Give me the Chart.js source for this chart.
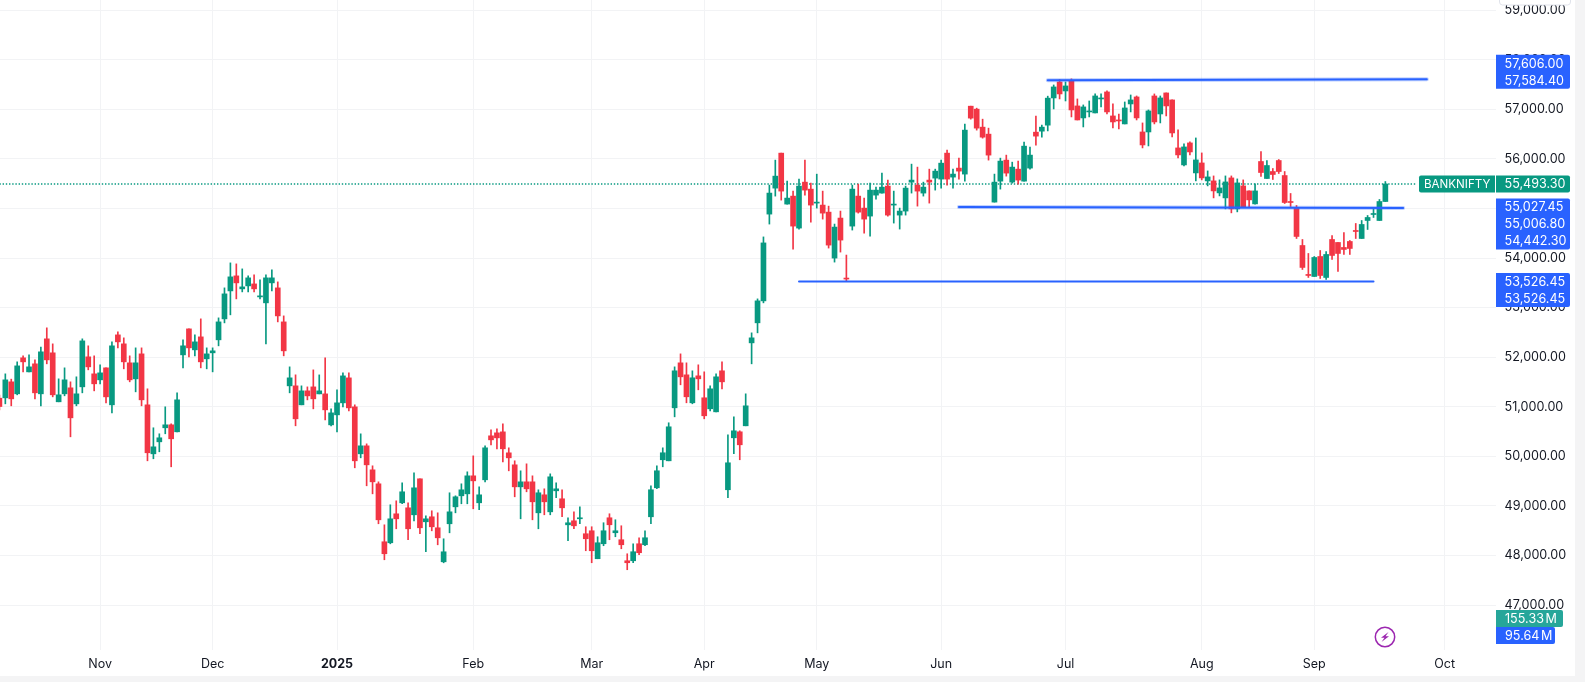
<!DOCTYPE html>
<html>
<head>
<meta charset="utf-8">
<title>BANKNIFTY</title>
<script src="https://cdn.jsdelivr.net/npm/chart.js@4/dist/chart.umd.min.js"></script>
<style>
    html, body { margin: 0; padding: 0; background: #f4f4f5; overflow: hidden; }
    #wrap { width: 1575px; height: 676px; background: #ffffff; }
</style>
</head>
<body>
<div id="wrap"><canvas id="myChart" width="1575" height="676"></canvas></div>
<script>
const opens = [
    51173,51180,51503,51261,51987,51704,51866,51261,52370,52088,
    51100,51261,51382,51059,51402,52007,51664,51543,51785,51039,
    52450,52269,51886,51563,52067,51039,50051,50293,50576,50636,
    50495,52047,52571,52148,52410,51967,52088,52350,52773,53337,
    53640,53378,53438,53478,53216,53096,53499,53398,52712,51422,
    51422,51039,51321,51401,51260,51260,50635,50837,51079,51583,
    50998,50051,50212,49728,49446,48277,48257,48841,49063,48962,
    48821,49547,48680,48781,48559,47873,48640,48982,49204,49244,
    49607,49063,49527,50414,50474,50494,50071,49829,49385,49486,
    49486,48861,49224,48881,49305,49144,48619,48700,48741,48439,
    48499,47935,48237,48761,48459,48318,47894,47894,48237,48217,
    48781,49366,49931,49910,50979,51886,51644,51080,51624,51181,
    50959,50898,51725,49326,50374,50495,50616,52289,52693,53136,
    54886,55410,56116,55088,55249,54604,55531,55390,55108,55068,
    54926,53999,54806,53596,54644,55249,55007,54846,55269,55310,
    55451,55068,54866,54947,55531,55471,55310,55572,55612,55592,
    56116,55632,55814,55693,57063,57003,56640,56499,55128,55551,
    55975,55531,55793,55551,55814,56539,56559,56680,57229,57551,
    57370,57572,57068,56826,56947,56927,57209,57350,56866,56785,
    56705,57108,57249,56543,56543,57269,56906,57330,57189,56221,
    55878,56322,55717,55918,55556,55556,55314,55213,55616,54991,
    55455,55354,55092,55947,55604,55745,55967,55664,55140,55019,
    54253,53669,53628,54031,53608,54374,54314,54213,54334,54556,
    54394,54757,54878,54757,55140
];
const highs = [
    51234,51664,51557,51906,52027,52047,51946,52202,52592,52269,
    51563,51785,51503,51604,52370,52229,52027,51846,51785,52309,
    52511,52390,52027,52188,52188,51362,50576,50455,50999,50656,
    51281,52350,52571,52450,52773,52188,52188,52793,53398,53902,
    53882,53781,53640,53660,53559,53660,53761,53519,52833,51805,
    51644,51422,51401,51744,51643,51986,50958,51341,51684,51684,
    51039,50454,50252,49809,49486,48619,49023,49103,49466,49063,
    49668,49547,48801,48902,48861,48337,49265,49204,49446,49688,
    50010,49385,50212,50535,50555,50656,50172,49910,49708,49849,
    49607,49325,49345,49647,49466,49325,48760,48881,48983,48580,
    48580,48378,48661,48842,48721,48600,48035,48237,48358,48499,
    49406,49810,50172,50677,51805,52067,51886,51725,51846,51705,
    51422,51664,51906,50435,50797,50515,51261,52491,53176,54426,
    55471,55975,56116,55551,55350,55592,55975,55511,55692,55350,
    55047,54685,54947,54060,55471,55491,55209,55511,55430,55713,
    55572,55350,55007,55451,55894,55834,55531,55793,55793,55975,
    56176,55793,56015,56701,57063,57023,56801,56620,55693,56015,
    56076,55934,55955,56338,56237,56862,56680,57265,57491,57600,
    57551,57614,57209,57088,57168,57310,57310,57370,57108,56906,
    57148,57289,57269,56725,56987,57310,57269,57330,57189,56584,
    56302,56342,56422,56120,55757,55656,55576,55656,55656,55596,
    55576,55354,55495,56148,55967,55806,55987,55745,55302,55060,
    54374,54092,54031,54152,54132,54455,54314,54515,54354,54697,
    54757,54858,55019,55181,55543
];
const lows = [
    50938,51059,51019,51241,51704,51704,51160,51019,51866,51200,
    51100,51221,50394,51019,51281,51745,51321,51463,51080,50878,
    52188,51765,51503,51301,51019,49910,49951,50092,50455,49789,
    50495,51785,52007,52027,51785,51765,51704,52229,52692,52854,
    53176,53317,53317,53317,53176,52269,53337,52712,52027,51281,
    50616,51039,51139,50958,51260,50736,50615,50494,50998,50918,
    49769,49970,49406,49244,48640,47914,48236,48539,49043,48317,
    48700,48438,48075,48498,48216,47853,48458,48861,49043,49043,
    48942,48922,49486,50232,50152,49889,49708,49184,48740,49285,
    48720,48539,48821,48821,49164,48781,48297,48539,48640,48096,
    47854,47935,48197,48318,48378,48136,47713,47854,48015,48197,
    48640,49346,49789,49910,50797,51443,51080,51060,51342,50757,
    50918,50898,51362,49165,50052,49931,50616,51866,52491,53096,
    54685,55249,55168,55088,54181,54584,55269,54725,55007,54785,
    54201,53918,54120,53526.45,54564,54906,54503,54443,55189,55310,
    54846,54705,54584,54866,55310,55047,55249,55108,55370,55410,
    55471,55410,55592,55551,56801,56580,56418,55975,55128,55390,
    55652,55511,55491,55551,55793,56277,56438,56564,57007,57209,
    57168,56846,56785,56644,56846,56927,57048,56906,56624,56604,
    56705,56947,56785,56221,56261,56705,56725,56866,56443,56019,
    55858,56080,55556,55576,55455,55213,55253,54991,54911,54931,
    55032,55032,55085,55644,55604,55584,55705,55100,55039,54394,
    53769,53608,53628,53588,53568,53971,53729,54072,54072,54394,
    54394,54576,54818,54757,55140
];
const closes = [
    51005,51543,51160,51825,51906,51805,51281,52108,51946,51241,
    51241,51543,50777,51261,52329,51805,51463,51684,51200,52229,
    52309,51906,51543,51886,51140,50072,50192,50374,50636,50354,
    51140,52229,52188,52309,51906,52067,52128,52712,53277,53620,
    53499,53418,53600,53378,53237,53600,53600,52833,52128,51583,
    50757,51321,51220,51160,51321,50938,50877,51079,51623,50978,
    49910,50212,49829,49486,48720,48035,48740,48740,49285,48539,
    49365,48559,48740,48579,48357,48075,48881,49184,49325,49607,
    49506,49224,50172,50333,50373,50152,49970,49385,49486,49345,
    49083,49265,49083,49587,49345,48962,48660,48599,48761,48338,
    48096,48257,48499,48620,48499,48217,47854,48076,48056,48358,
    49326,49709,50072,50596,51725,51604,51201,51584,51564,50818,
    51362,51604,51503,49870,50515,50233,51019,52390,53136,54305,
    55310,55652,55350,55209,54644,55451,55370,55068,55128,54906,
    54261,54624,54362,53576,55390,54926,54785,55370,55370,55430,
    54866,55088,54947,55410,55572,55350,55430,55531,55753,55914,
    55592,55693,55753,56580,56822,56620,56438,56076,55531,55955,
    55713,55834,55572,56257,56076,56459,56640,57225,57451,57310,
    57471,56987,56785,57048,56967,57269,57229,56947,56745,56765,
    57027,57189,56826,56281,56967,56745,57229,57068,56523,56080,
    56241,56140,55979,55616,55636,55354,55414,55535,54991,55515,
    55032,55173,55354,55725,55866,55685,55745,55120,55120,54435,
    53810,53648,54011,53648,54072,54052,54092,54173,54193,54535,
    54677,54818,54898,55140,55493.30
];

const monthTicks = [17, 36, 57, 80, 100, 119, 138, 159, 180, 203, 222, 244];
const monthLabels = ['Nov', 'Dec', '2025', 'Feb', 'Mar', 'Apr', 'May', 'Jun', 'Jul', 'Aug', 'Sep', 'Oct'];
const priceTicks = [47000, 48000, 49000, 50000, 51000, 52000, 53000, 54000, 55000, 56000, 57000, 58000, 59000];

const trendStarts = [177, 162, 135];
const trendEnds = [241, 237, 232];
const trendStartValues = [57584.40, 55027.45, 53526.45];
const trendEndValues = [57606.00, 55006.80, 53526.45];
const trendHalo = [true, true, false];

const symbolName = 'BANKNIFTY';
const lastPrice = 55493.30;
const lastPriceEnd = 239.3;

const tagTexts = [['57,606.00', '57,584.40'], ['55,027.45', '55,006.80', '54,442.30'], ['53,526.45', '53,526.45']];
const tagAnchors = [57584.40, 55027.45, 53526.45];
const tagAnchorRow = [1, 0, 0];
const volumeTexts = ['155.33 M', '95.64 M'];

const green = '#089981';
const red = '#f23645';
const blue = '#2962ff';
const gridColor = '#f2f3f5';
const textColor = '#131722';
const fontName = 'Inter, "Noto Sans", sans-serif';
const axisFontSize = 12.6;

const barColors = closes.map((c, i) => (c >= opens[i] ? green : red));

const priceLabel = (v) => v.toLocaleString('en-US', { minimumFractionDigits: 2, maximumFractionDigits: 2 });

const trendDatasets = [];
trendStarts.forEach((start, i) => {
    const points = [
        { x: start, y: trendStartValues[i] },
        { x: trendEnds[i], y: trendEndValues[i] }
    ];
    if (trendHalo[i]) {
        trendDatasets.push({
            type: 'line', data: points, borderColor: 'rgba(41,98,255,0.3)', borderWidth: 4,
            pointRadius: 0, borderCapStyle: 'round', order: 1
        });
    }
    trendDatasets.push({
        type: 'line', data: points, borderColor: blue, borderWidth: 2,
        pointRadius: 0, borderCapStyle: 'round', order: 0
    });
});

const drawTag = (ctx, x, y, w, h, color, radii) => {
    ctx.fillStyle = color;
    ctx.beginPath();
    ctx.roundRect(x, y, w, h, radii);
    ctx.fill();
};

const overlayPlugin = {
    id: 'overlay',
    afterDraw: (chart) => {
        const ctx = chart.ctx;
        const yScale = chart.scales.y;
        const left = chart.chartArea.right;
        const rowHeight = 17;
        const tagWidth = 74;
        const tagFont = axisFontSize + 'px ' + fontName;

        ctx.save();
        ctx.font = tagFont;
        ctx.textBaseline = 'middle';
        ctx.textAlign = 'left';

        // button stub over the top axis label
        ctx.fillStyle = '#ffffff';
        ctx.strokeStyle = '#e0e3eb';
        ctx.beginPath();
        ctx.roundRect(left + 3.5, -6, 71, 11, 3);
        ctx.fill();
        ctx.stroke();

        // price tags of the drawn lines
        tagTexts.forEach((rows, g) => {
            const anchorY = yScale.getPixelForValue(tagAnchors[g]);
            const top = anchorY - (tagAnchorRow[g] + 0.5) * rowHeight;
            drawTag(ctx, left, top, tagWidth, rows.length * rowHeight, blue, [0, 2, 2, 0]);
            ctx.fillStyle = '#ffffff';
            rows.forEach((text, r) => {
                ctx.fillText(text, left + 8.5, top + (r + 0.5) * rowHeight + 0.5);
            });
        });

        // last price tag
        const lastY = yScale.getPixelForValue(lastPrice);
        drawTag(ctx, left - 77, lastY - 8.5, 76, rowHeight, green, [2, 0, 0, 2]);
        drawTag(ctx, left, lastY - 8.5, tagWidth, rowHeight, green, [0, 2, 2, 0]);
        ctx.fillStyle = '#ffffff';
        ctx.fillText(priceLabel(lastPrice), left + 8.5, lastY + 0.5);
        ctx.font = '11.6px ' + fontName;
        ctx.fillText(symbolName, left - 72, lastY + 0.5);
        ctx.font = tagFont;

        // volume tags
        drawTag(ctx, left, 610, 67, rowHeight, '#26a69a', [0, 2, 2, 0]);
        drawTag(ctx, left, 627, 59, rowHeight, blue, [0, 2, 2, 0]);
        ctx.fillStyle = '#ffffff';
        ctx.wordSpacing = '-2px';
        ctx.fillText(volumeTexts[0], left + 9, 619);
        ctx.fillText(volumeTexts[1], left + 9, 636);
        ctx.wordSpacing = '0px';

        // bolt badge
        const bx = 1385;
        const by = 637;
        ctx.strokeStyle = '#9c27b0';
        ctx.lineWidth = 1.5;
        ctx.beginPath();
        ctx.arc(bx, by, 9.7, 0, Math.PI * 2);
        ctx.stroke();
        ctx.fillStyle = '#9c27b0';
        ctx.beginPath();
        ctx.moveTo(bx + 3.5, by - 5);
        ctx.lineTo(bx - 4, by + 0.8);
        ctx.lineTo(bx - 0.5, by + 0.8);
        ctx.lineTo(bx - 3.5, by + 5);
        ctx.lineTo(bx + 4, by - 0.8);
        ctx.lineTo(bx + 0.5, by - 0.8);
        ctx.closePath();
        ctx.fill();
        ctx.restore();
    }
};

const renderChart = () => {
    const ctx = document.getElementById('myChart').getContext('2d');
    new Chart(ctx, {
        type: 'bar',
        data: {
            datasets: [
                {
                    data: lows.map((low, i) => ({ x: i, y: [low, highs[i]] })),
                    backgroundColor: barColors,
                    barThickness: 1,
                    grouped: false,
                    order: 3
                },
                {
                    data: opens.map((open, i) => ({ x: i, y: [open, closes[i]] })),
                    backgroundColor: barColors,
                    barThickness: 5,
                    minBarLength: 1,
                    grouped: false,
                    order: 2
                },
                ...trendDatasets,
                {
                    type: 'line',
                    data: [{ x: 0, y: lastPrice }, { x: lastPriceEnd, y: lastPrice }],
                    borderColor: green,
                    borderWidth: 1.4,
                    borderDash: [1.4, 1.8],
                    pointRadius: 0,
                    order: 4
                }
            ]
        },
        options: {
            responsive: false,
            animation: false,
            events: [],
            plugins: { legend: { display: false }, tooltip: { enabled: false } },
            scales: {
                x: {
                    type: 'linear',
                    offset: false,
                    min: 0.1,
                    max: 252.68,
                    grid: { color: gridColor, offset: false, drawTicks: false },
                    border: { display: false },
                    afterBuildTicks: (scale) => {
                        scale.ticks = monthTicks.map(v => ({ value: v }));
                    },
                    afterFit: (scale) => { scale.height = 26; },
                    ticks: {
                        autoSkip: false,
                        maxRotation: 0,
                        padding: 7,
                        color: textColor,
                        font: (c) => ({
                            family: fontName,
                            size: 12.5,
                            weight: c.tick && monthLabels[monthTicks.indexOf(c.tick.value)] === '2025' ? 'bold' : 'normal'
                        }),
                        callback: (value) => monthLabels[monthTicks.indexOf(value)]
                    }
                },
                y: {
                    position: 'right',
                    min: 46094,
                    max: 59204.5,
                    grid: { color: gridColor, drawTicks: false },
                    border: { display: false },
                    afterBuildTicks: (scale) => {
                        scale.ticks = priceTicks.map(v => ({ value: v }));
                    },
                    afterFit: (scale) => {
                        scale.width = 79;
                        scale.paddingTop = 0;
                        scale.paddingBottom = 0;
                    },
                    ticks: {
                        padding: 8.5,
                        color: textColor,
                        font: { family: fontName, size: axisFontSize },
                        callback: (value) => priceLabel(value)
                    }
                }
            }
        },
        plugins: [overlayPlugin]
    });
};

document.addEventListener('DOMContentLoaded', renderChart);
</script>
</body>
</html>
